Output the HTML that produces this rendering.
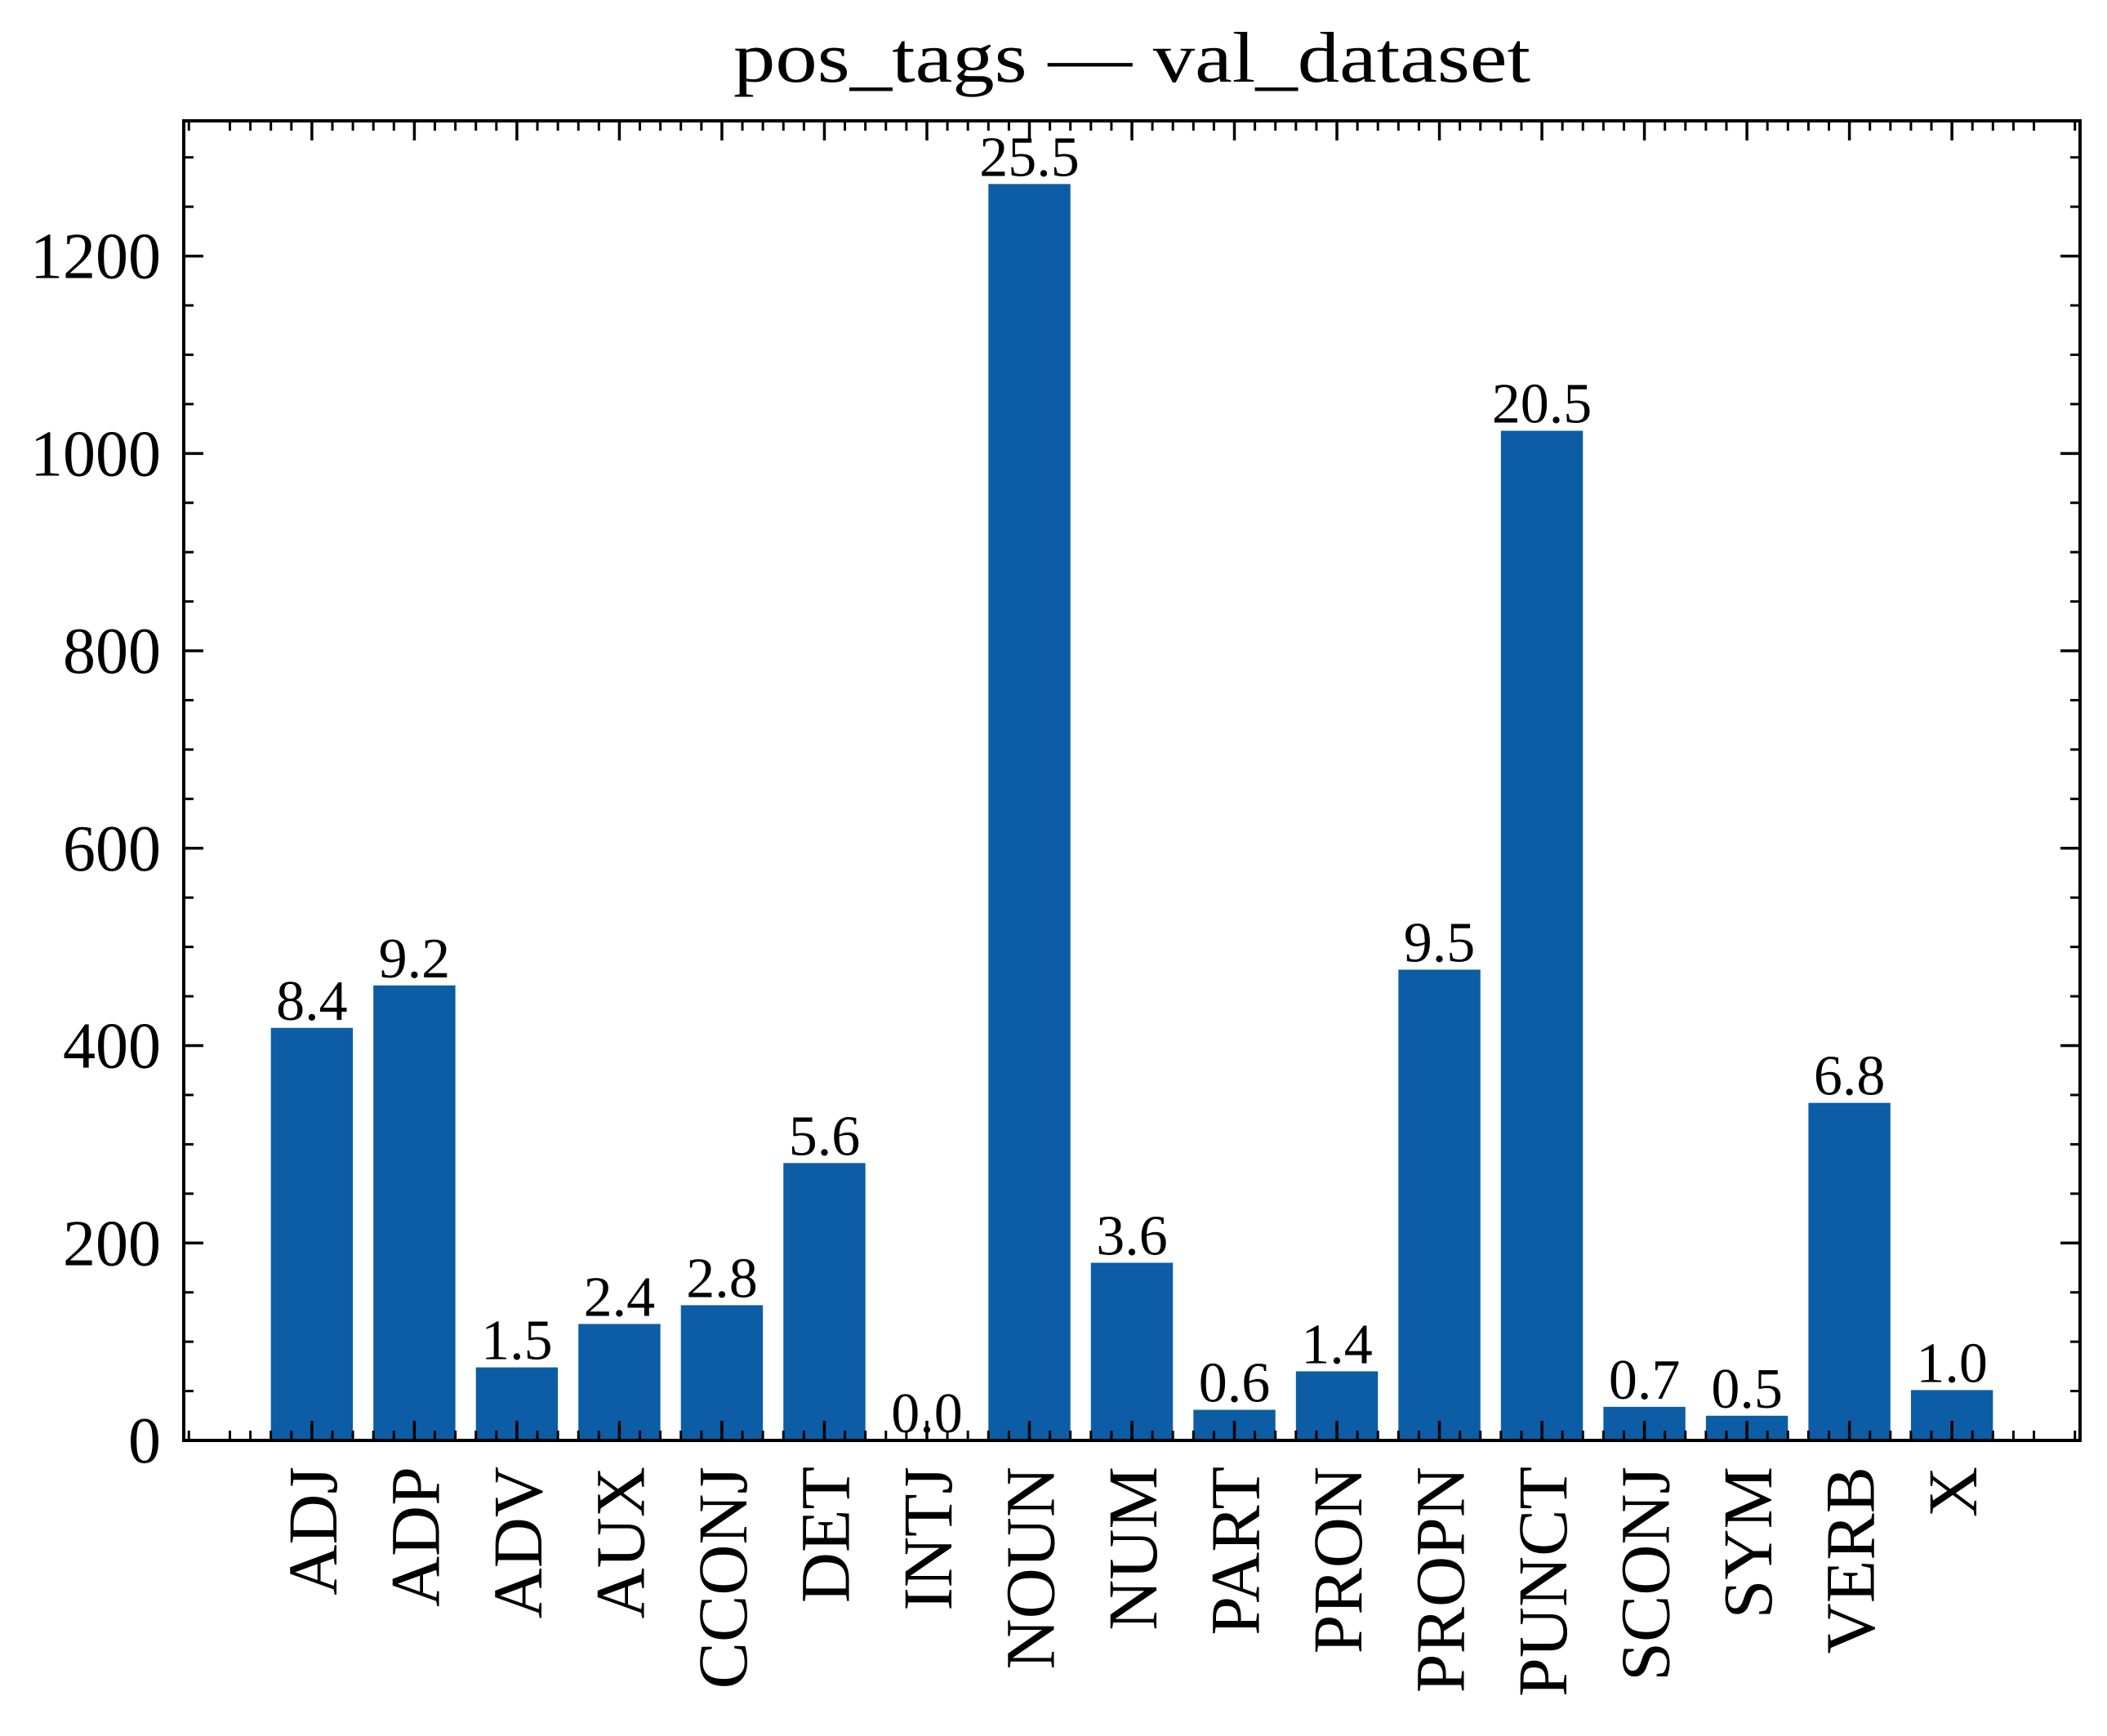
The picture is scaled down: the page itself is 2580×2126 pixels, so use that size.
<!DOCTYPE html>
<html><head><meta charset="utf-8"><style>
html,body{margin:0;padding:0;background:#fff;}
svg{display:block;font-family:"Liberation Serif","DejaVu Serif",serif;}
</style></head><body>
<svg id="chart" width="2580" height="2126" viewBox="0 0 2580 2126" xmlns="http://www.w3.org/2000/svg">
<rect width="2580" height="2126" fill="#fff"/>
<text x="1386" y="100" font-size="88" text-anchor="middle" textLength="976" lengthAdjust="spacingAndGlyphs">pos_tags — val_dataset</text>
<g id="bars"></g><g id="labels"></g><g id="ticks"></g>
<rect x="225" y="148" width="2322" height="1616" fill="none" stroke="#000" stroke-width="4"/>
</svg>
<script>
const categories=["ADJ","ADP","ADV","AUX","CCONJ","DET","INTJ","NOUN","NUM","PART","PRON","PROPN","PUNCT","SCONJ","SYM","VERB","X"];
const counts=[418,461,74,118,137,281,0,1273,180,31,70,477,1023,34,25,342,51];
const percents=["8.4","9.2","1.5","2.4","2.8","5.6","0.0","25.5","3.6","0.6","1.4","9.5","20.5","0.7","0.5","6.8","1.0"];
const yTicks=[0,200,400,600,800,1000,1200];
const NS="http://www.w3.org/2000/svg";
const L=225,R=2547,T=148,B=1764;
const xMin=-1.25,xMax=17.25,yMin=0,yMax=1337;
const xs=v=>L+(v-xMin)/(xMax-xMin)*(R-L);
const ys=v=>B-(v-yMin)/(yMax-yMin)*(B-T);
function mk(tag,attrs,parent){const e=document.createElementNS(NS,tag);for(const k in attrs)e.setAttribute(k,attrs[k]);parent.appendChild(e);return e;}
const gb=document.getElementById('bars'),gl=document.getElementById('labels'),gt=document.getElementById('ticks');
const bw=0.8*(xs(1)-xs(0));
categories.forEach((c,i)=>{
  const x=xs(i);
  const r=mk('rect',{x:x-bw/2,y:ys(counts[i]),width:bw,height:B-ys(counts[i]),fill:'#0C5DA5'},gb);
  
  
  const t=mk('text',{x:x,y:ys(counts[i])-10,'font-size':70,'text-anchor':'middle'},gl);
  t.textContent=percents[i];
  
  
  const xl=mk('text',{transform:`translate(${x+30},${B+32}) rotate(-90)`,'font-size':86,'text-anchor':'end'},gl);
  xl.textContent=c;
  
  
  mk('line',{x1:x,x2:x,y1:B,y2:B-24,stroke:'#000','stroke-width':3.5},gt);
  mk('line',{x1:x,x2:x,y1:T,y2:T+24,stroke:'#000','stroke-width':3.5},gt);
});
for(let k=Math.ceil(xMin/0.2);k*0.2<=xMax;k++){
  if(k%5===0)continue;const x=xs(k*0.2);
  mk('line',{x1:x,x2:x,y1:B,y2:B-12,stroke:'#000','stroke-width':3},gt);
  mk('line',{x1:x,x2:x,y1:T,y2:T+12,stroke:'#000','stroke-width':3},gt);
}
yTicks.forEach(v=>{
  const y=ys(v);
  mk('line',{x1:L,x2:L+24,y1:y,y2:y,stroke:'#000','stroke-width':3.5},gt);
  mk('line',{x1:R,x2:R-24,y1:y,y2:y,stroke:'#000','stroke-width':3.5},gt);
  const t=mk('text',{x:L-28,y:y+27,'font-size':80,'text-anchor':'end'},gl);
  t.textContent=v;
  
  
});
for(let v=50;v<=yMax;v+=50){
  if(v%200===0)continue;const y=ys(v);
  mk('line',{x1:L,x2:L+12,y1:y,y2:y,stroke:'#000','stroke-width':3},gt);
  mk('line',{x1:R,x2:R-12,y1:y,y2:y,stroke:'#000','stroke-width':3},gt);
}
</script>
</body></html>
